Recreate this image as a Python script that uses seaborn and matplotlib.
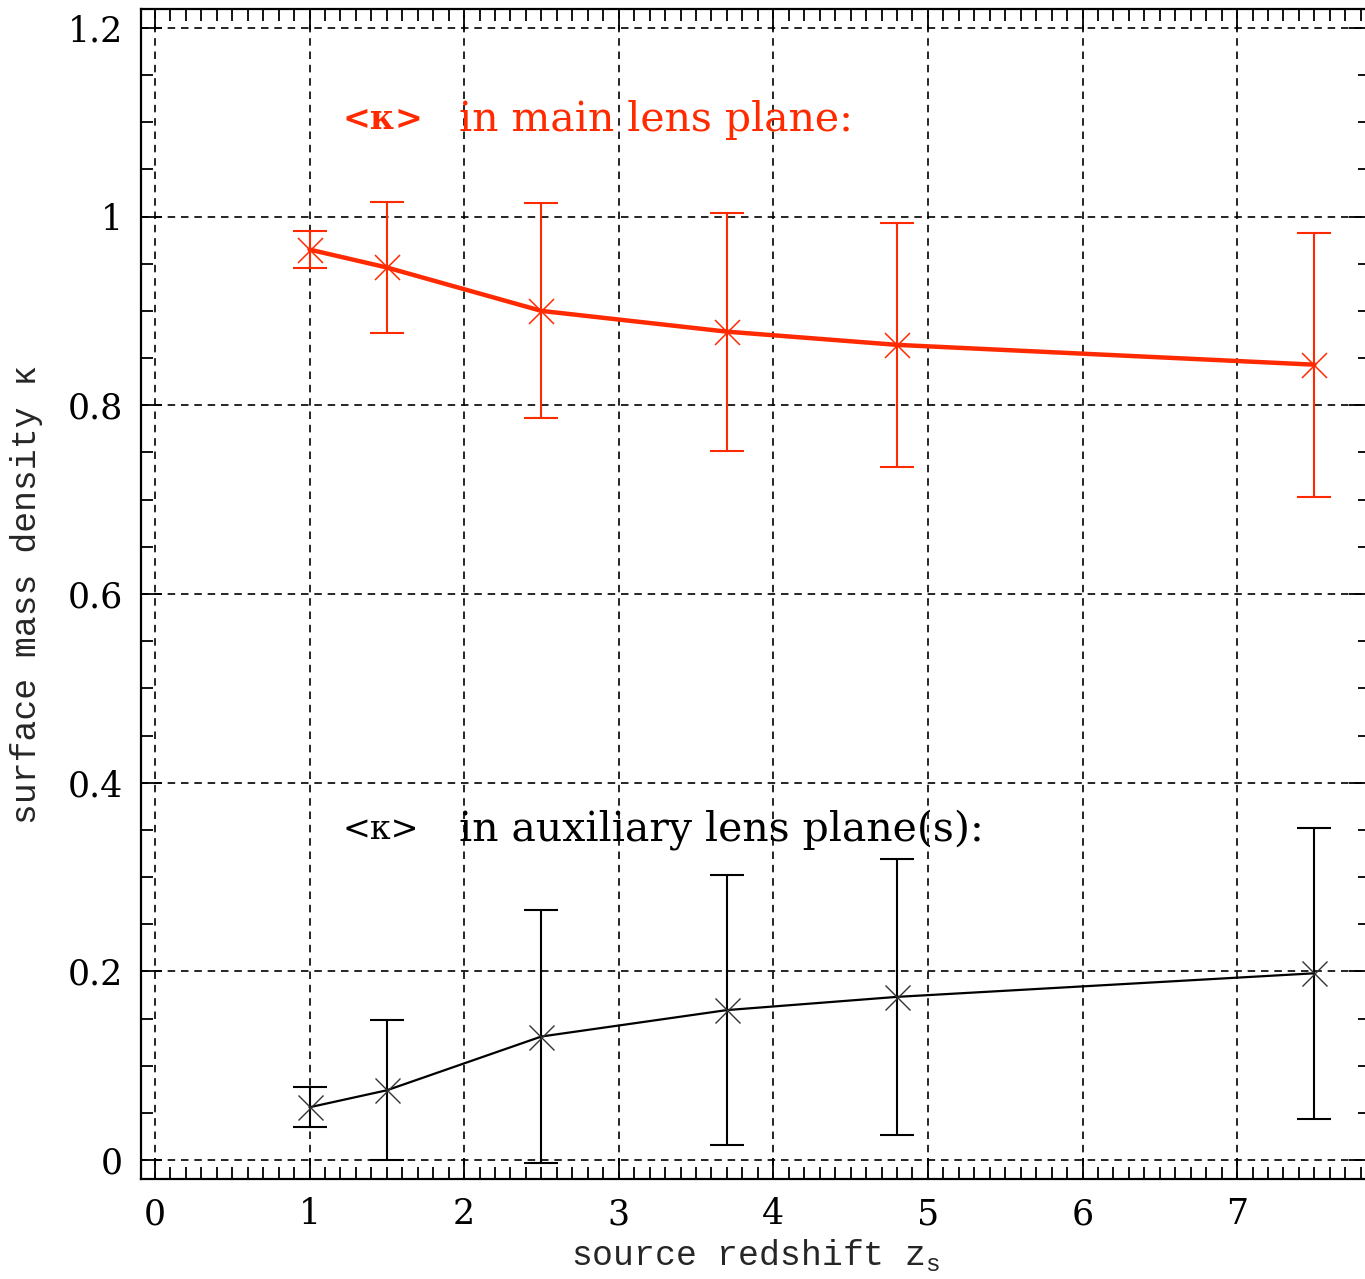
import numpy as np
import pandas as pd
import matplotlib
matplotlib.use("Agg")
import matplotlib.pyplot as plt
from matplotlib.ticker import MultipleLocator
import seaborn as sns

# Source redshifts of the lens models
z_main = [1.0, 1.5, 2.5, 3.7, 4.8, 7.5]
kappa_main = [0.965, 0.946, 0.900, 0.878, 0.864, 0.843]
kappa_main_err = [0.020, 0.069, 0.114, 0.126, 0.129, 0.140]

z_aux = [1.0, 1.5, 2.5, 3.7, 4.8, 7.5]
kappa_aux = [0.056, 0.074, 0.131, 0.159, 0.173, 0.198]
kappa_aux_err = [0.021, 0.074, 0.134, 0.143, 0.146, 0.154]

x_ticks = [0, 1, 2, 3, 4, 5, 6, 7]
y_ticks = [0, 0.2, 0.4, 0.6, 0.8, 1.0, 1.2]
y_tick_labels = ["0", "0.2", "0.4", "0.6", "0.8", "1", "1.2"]

RED = "#ff2a00"
BLACK = "#000000"

sns.set_theme(style="ticks")
plt.rcParams["font.family"] = ["DejaVu Serif", "DejaVu Sans"]
plt.rcParams["mathtext.fontset"] = "custom"
plt.rcParams["mathtext.rm"] = "Liberation Mono"

df_main = pd.DataFrame({"z": z_main, "kappa": kappa_main})
df_aux = pd.DataFrame({"z": z_aux, "kappa": kappa_aux})

fig = plt.figure(figsize=(13.65, 12.79), dpi=100)
ax = fig.add_axes([0.1033, 0.0782, 0.9004, 0.9148])

# dashed grid at the major ticks
ax.set_xticks(x_ticks)
ax.set_yticks(y_ticks)
ax.set_yticklabels(y_tick_labels)
ax.grid(True, which="major", color="black", linestyle=(0, (4.5, 3.5)), linewidth=1.2)
ax.set_axisbelow(True)

# main lens plane
ax.errorbar(z_main, kappa_main, yerr=kappa_main_err, fmt="none", ecolor=RED,
            elinewidth=1.5, capsize=12.5, capthick=1.5, zorder=3)
sns.lineplot(data=df_main, x="z", y="kappa", ax=ax, color=RED, linewidth=3.2,
             marker="x", markersize=18, markeredgewidth=1.1, markeredgecolor=RED,
             zorder=4)

# auxiliary lens planes
ax.errorbar(z_aux, kappa_aux, yerr=kappa_aux_err, fmt="none", ecolor=BLACK,
            elinewidth=1.5, capsize=12.5, capthick=1.5, zorder=3)
sns.lineplot(data=df_aux, x="z", y="kappa", ax=ax, color=BLACK, linewidth=1.6,
             marker="x", markersize=18, markeredgewidth=1.0, markeredgecolor="#333333",
             zorder=4)

ax.set_xlim(-0.09, 7.86)
ax.set_ylim(-0.020, 1.220)

ax.xaxis.set_minor_locator(MultipleLocator(0.1))
ax.yaxis.set_minor_locator(MultipleLocator(0.05))
ax.tick_params(which="both", direction="in", top=True, right=True,
               colors="black", width=1.3)
ax.tick_params(which="major", length=15, labelsize=25, pad=13)
ax.tick_params(which="minor", length=8.5)
for lab in ax.get_xticklabels() + ax.get_yticklabels():
    lab.set_family("DejaVu Serif")

for sp in ax.spines.values():
    sp.set_color("black")
    sp.set_linewidth(1.6)

ax.set_xlabel(r"source redshift z$_\mathrm{s}$", family="Liberation Mono",
              fontsize=25, labelpad=4)
ax.set_ylabel("surface mass density κ", family="Liberation Mono",
              fontsize=25, labelpad=18)

# annotations
ax.text(1.216, 1.1025, "<κ>", color=RED, fontsize=24, fontweight="bold",
        va="center", ha="left")
ax.text(1.966, 1.1025, "in main lens plane:", color=RED, fontsize=29.5,
        va="center", ha="left")
ax.text(1.216, 0.350, "<κ>", color=BLACK, fontsize=24,
        va="center", ha="left")
ax.text(1.966, 0.350, "in auxiliary lens plane(s):", color=BLACK, fontsize=29.5,
        va="center", ha="left")

fig.savefig("out.png", dpi=100)
